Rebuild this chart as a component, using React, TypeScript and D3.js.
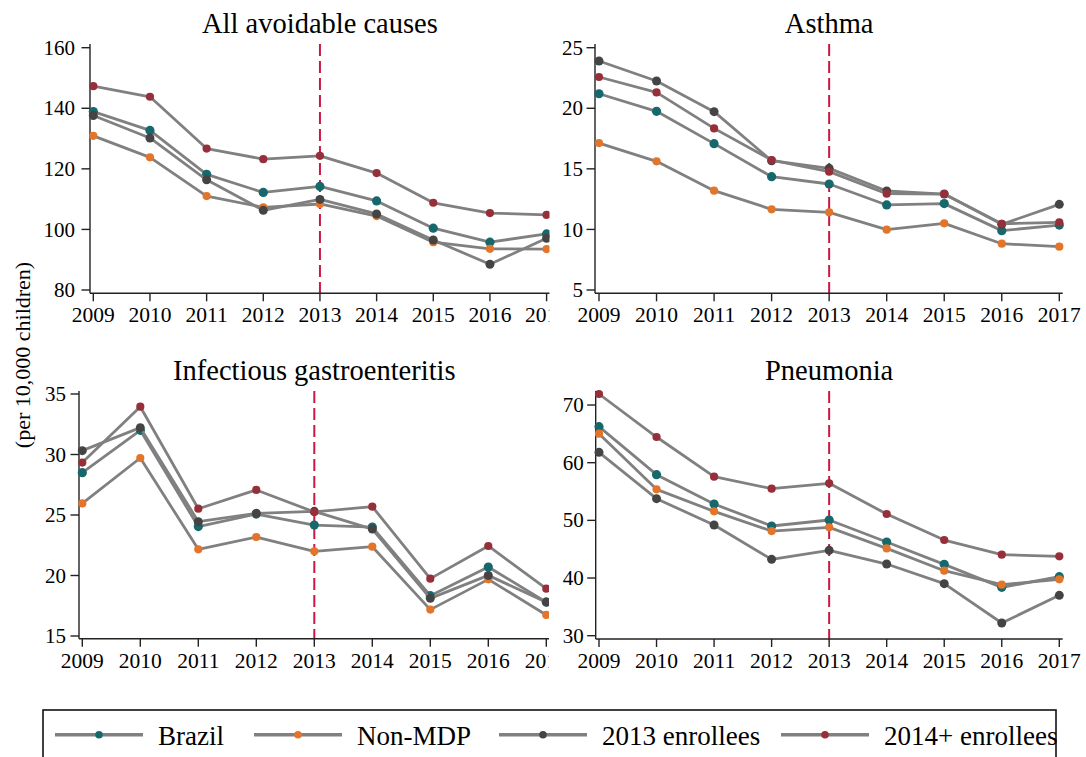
import React from "react";
import * as d3 from "d3";

// Years on the x axis
const years = [2009, 2010, 2011, 2012, 2013, 2014, 2015, 2016, 2017];

// Series labels and marker colours
const seriesNames = ["Brazil", "Non-MDP", "2013 enrollees", "2014+ enrollees"];
const seriesColors = ["#17686c", "#e2752a", "#444444", "#962f39"];
const markerRadius = [4.6, 4.1, 4.5, 4.1];

// Hospitalisation rates (per 10,000 children)
const allCausesBrazil = [138.9, 132.7, 118.2, 112.2, 114.2, 109.4, 100.4, 95.8, 98.5];
const allCausesNonMdp = [130.9, 123.8, 111.0, 107.3, 108.4, 104.4, 95.8, 93.6, 93.5];
const allCauses2013 = [137.6, 130.2, 116.4, 106.3, 109.9, 105.1, 96.5, 88.5, 97.1];
const allCauses2014 = [147.3, 143.8, 126.7, 123.2, 124.3, 118.6, 108.8, 105.4, 104.8];

const asthmaBrazil = [21.2, 19.75, 17.08, 14.35, 13.75, 12.02, 12.13, 9.9, 10.36];
const asthmaNonMdp = [17.13, 15.62, 13.2, 11.66, 11.41, 9.98, 10.5, 8.82, 8.58];
const asthma2013 = [23.9, 22.25, 19.72, 15.67, 15.04, 13.17, 12.92, 10.42, 12.07];
const asthma2014 = [22.58, 21.31, 18.34, 15.73, 14.77, 12.95, 12.92, 10.47, 10.58];

const gastroBrazil = [28.5, 32.0, 24.04, 25.08, 24.17, 24.0, 18.33, 20.7, 17.8];
const gastroNonMdp = [25.96, 29.71, 22.16, 23.18, 22.0, 22.38, 17.18, 19.68, 16.74];
const gastro2013 = [30.32, 32.22, 24.45, 25.14, 25.3, 23.84, 18.11, 20.01, 17.8];
const gastro2014 = [29.33, 33.95, 25.52, 27.07, 25.25, 25.69, 19.74, 22.44, 18.91];

const pneumoniaBrazil = [66.24, 57.92, 52.83, 49.02, 50.06, 46.24, 42.37, 38.38, 40.23];
const pneumoniaNonMdp = [65.03, 55.38, 51.56, 48.15, 48.79, 45.14, 41.27, 38.84, 39.77];
const pneumonia2013 = [61.79, 53.76, 49.19, 43.24, 44.8, 42.43, 39.02, 32.2, 37.0];
const pneumonia2014 = [71.91, 64.45, 57.57, 55.49, 56.42, 51.1, 46.59, 44.05, 43.76];

// Y tick values per panel
const allCausesTicks = [80, 100, 120, 140, 160];
const asthmaTicks = [5, 10, 15, 20, 25];
const gastroTicks = [15, 20, 25, 30, 35];
const pneumoniaTicks = [30, 40, 50, 60, 70];

const policyYear = 2013;

const FONT = "'Liberation Serif', 'Times New Roman', serif";

type PanelSpec = {
  title: string;
  series: number[][];
  ticks: number[];
  axisX: number;
  xRange: [number, number];
  yRange: [number, number];
  xAxisY: number;
  yAxisTop: number;
  clipRight: number;
  labelGap: number;
};

const panels: PanelSpec[] = [
  {
    title: "All avoidable causes",
    series: [allCausesBrazil, allCausesNonMdp, allCauses2013, allCauses2014],
    ticks: allCausesTicks,
    axisX: 90,
    xRange: [93.3, 546.6],
    yRange: [290, 47.7],
    xAxisY: 293.3,
    yAxisTop: 44,
    clipRight: 549.5,
    labelGap: 15,
  },
  {
    title: "Asthma",
    series: [asthmaBrazil, asthmaNonMdp, asthma2013, asthma2014],
    ticks: asthmaTicks,
    axisX: 595,
    xRange: [599, 1059.3],
    yRange: [290, 47.7],
    xAxisY: 293.3,
    yAxisTop: 44,
    clipRight: 1086,
    labelGap: 12,
  },
  {
    title: "Infectious gastroenteritis",
    series: [gastroBrazil, gastroNonMdp, gastro2013, gastro2014],
    ticks: gastroTicks,
    axisX: 79,
    xRange: [82.3, 546.3],
    yRange: [636, 394],
    xAxisY: 638.7,
    yAxisTop: 391,
    clipRight: 549,
    labelGap: 13,
  },
  {
    title: "Pneumonia",
    series: [pneumoniaBrazil, pneumoniaNonMdp, pneumonia2013, pneumonia2014],
    ticks: pneumoniaTicks,
    axisX: 595.7,
    xRange: [599, 1059.3],
    yRange: [635.7, 394],
    xAxisY: 639,
    yAxisTop: 391,
    clipRight: 1086,
    labelGap: 12,
  },
];

function Panel({ spec, idx }: { spec: PanelSpec; idx: number }) {
  const allVals = spec.series.flat();
  const lo = Math.min(spec.ticks[0], d3.min(allVals) as number);
  const hi = Math.max(spec.ticks[spec.ticks.length - 1], d3.max(allVals) as number);
  const x = d3.scaleLinear().domain([years[0], years[years.length - 1]]).range(spec.xRange);
  const y = d3.scaleLinear().domain([lo, hi]).range(spec.yRange);
  const line = d3
    .line<number>()
    .x((_, i) => x(years[i]))
    .y((v) => y(v));
  const clipId = `panel-clip-${idx}`;
  const xEnd = spec.xRange[1] + 3.4;
  const cx = (spec.xRange[0] + spec.xRange[1]) / 2;

  return (
    <g>
      <defs>
        <clipPath id={clipId}>
          <rect x={0} y={0} width={spec.clipRight} height={757} />
        </clipPath>
      </defs>
      <text
        x={cx}
        y={spec.yAxisTop - 11}
        textAnchor="middle"
        fontFamily={FONT}
        fontSize={28.5}
        fill="#000"
      >
        {spec.title}
      </text>
      <g clipPath={`url(#${clipId})`}>
        {/* policy year marker */}
        <line
          x1={x(policyYear)}
          x2={x(policyYear)}
          y1={spec.yAxisTop}
          y2={spec.xAxisY}
          stroke="#cc1744"
          strokeWidth={2}
          strokeDasharray="12,5"
        />
        {/* axes */}
        <line x1={spec.axisX} x2={spec.axisX} y1={spec.yAxisTop} y2={spec.xAxisY} stroke="#222" strokeWidth={1.4} />
        <line x1={spec.axisX} x2={xEnd} y1={spec.xAxisY} y2={spec.xAxisY} stroke="#222" strokeWidth={1.4} />
        {spec.ticks.map((t) => (
          <g key={`yt${t}`}>
            <line x1={spec.axisX - 8.5} x2={spec.axisX} y1={y(t)} y2={y(t)} stroke="#222" strokeWidth={1.4} />
            <text
              x={spec.axisX - spec.labelGap}
              y={y(t)}
              dy="0.34em"
              textAnchor="end"
              fontFamily={FONT}
              fontSize={21}
              fill="#000"
            >
              {t}
            </text>
          </g>
        ))}
        {years.map((yr) => (
          <g key={`xt${yr}`}>
            <line x1={x(yr)} x2={x(yr)} y1={spec.xAxisY} y2={spec.xAxisY + 8} stroke="#222" strokeWidth={1.4} />
            <text
              x={x(yr)}
              y={spec.xAxisY + 29}
              textAnchor="middle"
              fontFamily={FONT}
              fontSize={21.5}
              fill="#000"
            >
              {yr}
            </text>
          </g>
        ))}
        {spec.series.map((vals, si) => (
          <g key={`s${si}`}>
            <path d={line(vals) as string} fill="none" stroke="#808080" strokeWidth={2.8} strokeLinejoin="round" />
            {vals.map((v, i) => (
              <circle key={i} cx={x(years[i])} cy={y(v)} r={markerRadius[si]} fill={seriesColors[si]} />
            ))}
          </g>
        ))}
      </g>
    </g>
  );
}

// Legend item left edges (line start)
const legendX = [55, 254, 499, 781];

export default function App() {
  return (
    <div style={{ position: "absolute", left: 0, top: 0 }}>
      <svg width={1086} height={757} style={{ display: "block", background: "#fff" }}>
        <rect x={0} y={0} width={1086} height={757} fill="#fff" />
        {panels.map((p, i) => (
          <Panel key={i} spec={p} idx={i} />
        ))}
        <text
          transform="translate(30,355) rotate(-90)"
          textAnchor="middle"
          fontFamily={FONT}
          fontSize={22}
          fill="#000"
        >
          (per 10,000 children)
        </text>
        {/* legend */}
        <rect x={43} y={710} width={1013} height={70} fill="none" stroke="#111" strokeWidth={1.6} />
        {seriesNames.map((name, i) => (
          <g key={name}>
            <line x1={legendX[i]} x2={legendX[i] + 88} y1={734.7} y2={734.7} stroke="#808080" strokeWidth={3.5} />
            <circle cx={legendX[i] + 44} cy={734.7} r={3.8} fill={seriesColors[i]} />
            <text x={legendX[i] + 103} y={745} fontFamily={FONT} fontSize={27} fill="#000">
              {name}
            </text>
          </g>
        ))}
      </svg>
    </div>
  );
}
